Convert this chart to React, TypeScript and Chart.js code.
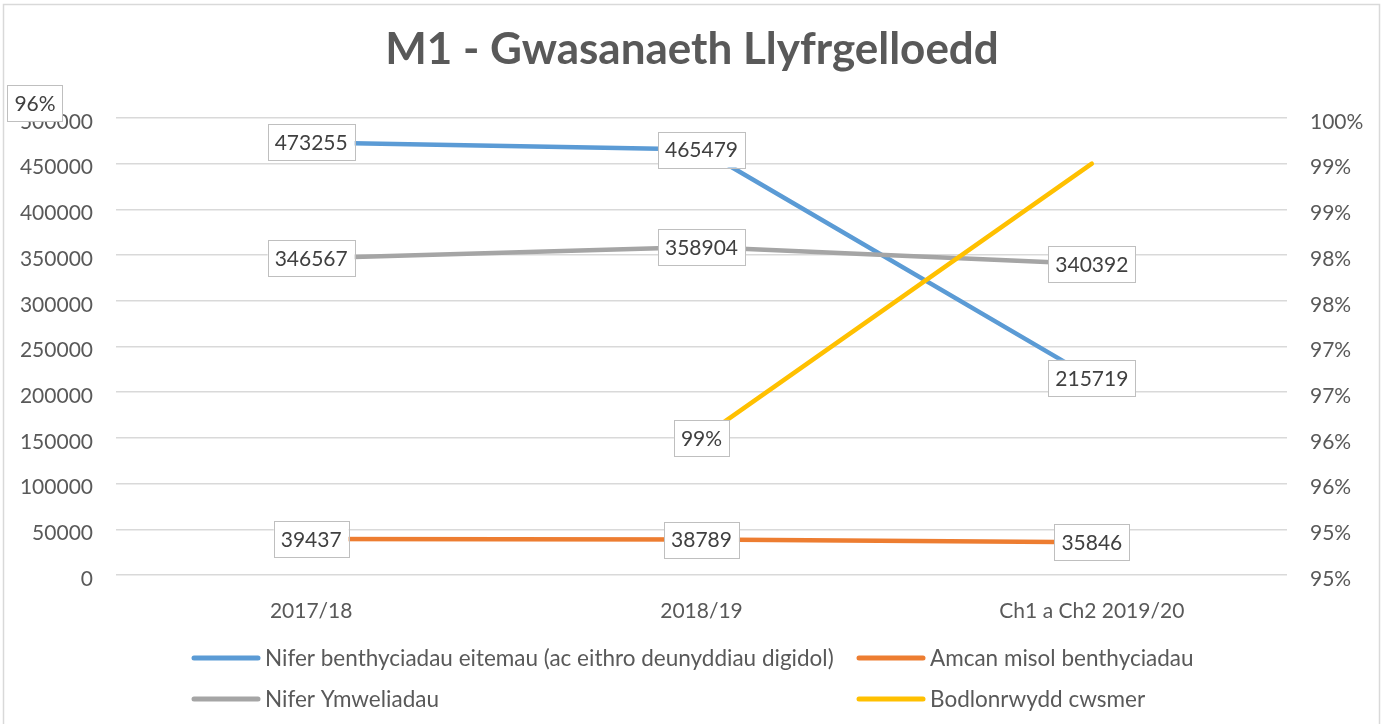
import React, { useEffect, useRef } from "react";
import { Chart, registerables } from "chart.js";

Chart.register(...registerables);

const categories = ["2017/18", "2018/19", "Ch1 a Ch2 2019/20"];
const seriesNames = [
  "Nifer benthyciadau eitemau (ac eithro deunyddiau digidol)",
  "Amcan misol benthyciadau",
  "Nifer Ymweliadau",
  "Bodlonrwydd cwsmer",
];
const loansValues = [473255, 465479, 215719];
const monthlyLoansValues = [39437, 38789, 35846];
const visitsValues = [346567, 358904, 340392];
const satisfactionValues: (number | null)[] = [null, 96, 99];
const colors = ["#5B9BD5", "#ED7D31", "#A5A5A5", "#FFC000"];
const leftTicks = { min: 0, max: 500000, step: 50000 };
const rightTicks = { min: 94.5, max: 99.5, step: 0.5 };

const FONT = "Lato, 'Open Sans', sans-serif";
const TEXT = "#595959";

function pct(v: number) {
  return Math.round(v + 1e-9) + "%";
}

const framePlugin = {
  id: "frame",
  beforeDraw(chart: any) {
    const ctx = chart.ctx;
    ctx.save();
    ctx.fillStyle = "#ffffff";
    ctx.fillRect(0, 0, chart.width, chart.height);
    ctx.strokeStyle = "#d9d9d9";
    ctx.lineWidth = 1.5;
    ctx.strokeRect(3.5, 4.5, chart.width - 8, chart.height + 20);
    ctx.restore();
  },
  afterDraw(chart: any) {
    const ctx = chart.ctx;
    ctx.save();
    // title
    ctx.font = `bold 44px ${FONT}`;
    ctx.fillStyle = TEXT;
    ctx.textAlign = "center";
    ctx.textBaseline = "middle";
    ctx.fillText("M1 - Gwasanaeth Llyfrgelloedd", chart.width / 2, 50);
    // legend (two columns)
    const cols = [192, 857];
    const rows = [658, 699];
    ctx.font = `22.5px ${FONT}`;
    ctx.textAlign = "left";
    chart.data.datasets.forEach((ds: any, i: number) => {
      const x = cols[i % 2];
      const y = rows[Math.floor(i / 2)];
      ctx.strokeStyle = ds.borderColor;
      ctx.lineWidth = 5;
      ctx.lineCap = "round";
      ctx.beginPath();
      ctx.moveTo(x + 2, y);
      ctx.lineTo(x + 66, y);
      ctx.stroke();
      ctx.fillStyle = TEXT;
      ctx.fillText(ds.label, x + 73, y + 1);
    });
    ctx.restore();
  },
};

function drawBox(ctx: any, text: string, cx: number, cy: number) {
  ctx.font = `21px ${FONT}`;
  const w = ctx.measureText(text).width + 14;
  const h = 36;
  ctx.fillStyle = "#ffffff";
  ctx.fillRect(cx - w / 2, cy - h / 2, w, h);
  ctx.strokeStyle = "#bfbfbf";
  ctx.lineWidth = 1;
  ctx.strokeRect(Math.round(cx - w / 2) + 0.5, Math.round(cy - h / 2) + 0.5, Math.round(w), h);
  ctx.fillStyle = "#404040";
  ctx.textAlign = "center";
  ctx.textBaseline = "middle";
  ctx.fillText(text, cx, cy + 1);
}

const labelPlugin = {
  id: "boxLabels",
  afterDatasetsDraw(chart: any) {
    const ctx = chart.ctx;
    const area = chart.chartArea;
    ctx.save();
    chart.data.datasets.forEach((ds: any, di: number) => {
      const meta = chart.getDatasetMeta(di);
      ds.data.forEach((v: number | null, i: number) => {
        if (v === null || v === undefined) return;
        const isPct = ds.yAxisID === "y1";
        const text = isPct ? pct(v) : String(v);
        let cx = meta.data[i].x;
        let cy = meta.data[i].y;
        if (isPct) {
          // reference places the satisfaction labels away from their points
          if (i === 1) {
            cx = area.left - 81;
            cy = area.top - 15;
          } else if (i === 2) {
            cx = meta.data[1].x;
            cy = meta.data[1].y;
          }
        }
        drawBox(ctx, text, cx, cy);
      });
    });
    ctx.restore();
  },
};

export default function App() {
  const ref = useRef<HTMLCanvasElement>(null);
  useEffect(() => {
    if (!ref.current) return;
    const mk = (label: string, data: any[], color: string, axis: string, order: number) => ({
      label,
      data,
      borderColor: color,
      backgroundColor: color,
      borderWidth: 4.5,
      pointRadius: 0,
      pointHoverRadius: 0,
      tension: 0,
      yAxisID: axis,
      order,
      borderCapStyle: "round",
      borderJoinStyle: "round",
    });
    const chart = new Chart(ref.current, {
      type: "line",
      data: {
        labels: categories,
        datasets: [
          mk(seriesNames[0], loansValues, colors[0], "y", 3),
          mk(seriesNames[1], monthlyLoansValues, colors[1], "y", 2),
          mk(seriesNames[2], visitsValues, colors[2], "y", 1),
          mk(seriesNames[3], satisfactionValues, colors[3], "y1", 0),
        ] as any,
      },
      options: {
        animation: false,
        responsive: false,
        maintainAspectRatio: false,
        layout: { padding: { top: 118, left: 0, right: 0, bottom: 0 } },
        plugins: {
          legend: { display: false },
          title: { display: false },
          tooltip: { enabled: false },
        },
        scales: {
          x: {
            offset: true,
            grid: { display: false, drawTicks: false },
            border: { display: false },
            ticks: {
              color: TEXT,
              font: { family: FONT, size: 21 },
              padding: 24,
              maxRotation: 0,
              autoSkip: false,
            },
            afterFit: (s: any) => {
              s.height = 149;
            },
          },
          y: {
            position: "left",
            min: leftTicks.min,
            max: leftTicks.max,
            grid: { color: "#d9d9d9", lineWidth: 1.5, drawTicks: false },
            border: { display: false },
            ticks: {
              stepSize: leftTicks.step,
              color: TEXT,
              font: { family: FONT, size: 21 },
              padding: 23,
              labelOffset: 4,
              callback: (v: any) => String(Math.round(Number(v))),
            },
            afterFit: (s: any) => {
              s.width = 116;
            },
          },
          y1: {
            position: "right",
            min: rightTicks.min,
            max: rightTicks.max,
            grid: { display: false, drawTicks: false },
            border: { display: false },
            ticks: {
              stepSize: rightTicks.step,
              color: TEXT,
              font: { family: FONT, size: 21 },
              padding: 23,
              labelOffset: 4,
              callback: (v: any) => pct(Number(v)),
            },
            afterFit: (s: any) => {
              s.width = 97;
            },
          },
        },
      } as any,
      plugins: [framePlugin, labelPlugin],
    });
    return () => chart.destroy();
  }, []);
  return (
    <div style={{ position: "absolute", left: 0, top: 0, width: 1384, height: 724 }}>
      <canvas ref={ref} width={1384} height={724} style={{ display: "block" }} />
    </div>
  );
}
